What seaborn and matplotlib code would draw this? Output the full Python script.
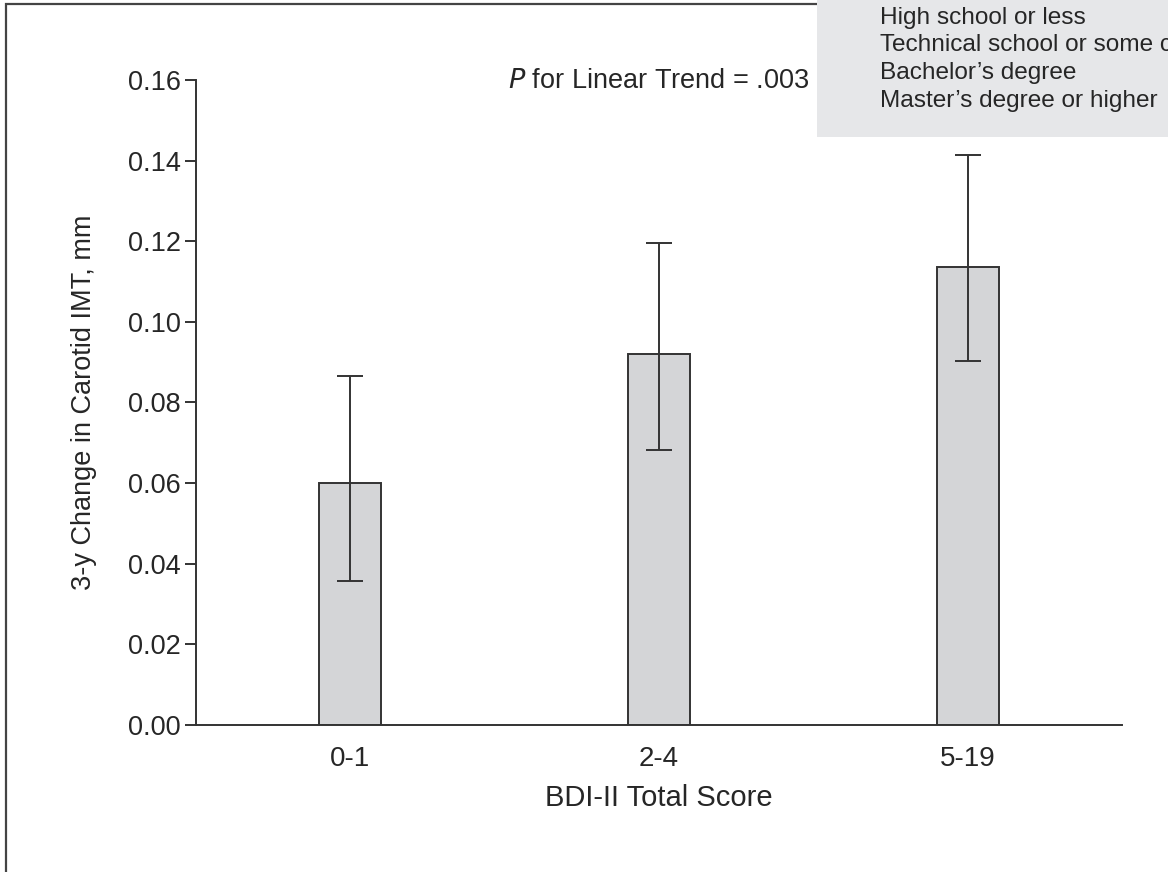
import numpy as np
import pandas as pd
import matplotlib
matplotlib.use('Agg')
import matplotlib.pyplot as plt
import seaborn as sns
from matplotlib.patches import Rectangle

# values
groups = ['0-1', '2-4', '5-19']
means = [0.060, 0.092, 0.1135]
lower = [0.0357, 0.0682, 0.0903]
upper = [0.0866, 0.1195, 0.1414]
yticks = [0.00, 0.02, 0.04, 0.06, 0.08, 0.10, 0.12, 0.14, 0.16]
legend_lines = ['High school or less', 'Technical school or some college',
                "Bachelor\u2019s degree", "Master\u2019s degree or higher"]

sns.set_style('ticks')
plt.rcParams['font.family'] = ['Liberation Sans', 'DejaVu Sans']
dark = '#333333'

df = pd.DataFrame({'group': groups, 'mean': means})

fig = plt.figure(figsize=(11.68, 8.72), dpi=100)
ax = fig.add_axes([0.1678, 0.1686, 0.7928, 0.7397])

sns.barplot(data=df, x='group', y='mean', color='#d4d5d7', width=0.2,
            edgecolor=dark, linewidth=1.4, saturation=1, ax=ax)

err = np.array([np.array(means) - np.array(lower), np.array(upper) - np.array(means)])
ax.errorbar(np.arange(len(groups)), means, yerr=err, fmt='none', ecolor=dark,
            elinewidth=1.4, capsize=9.5, capthick=1.4)

ax.set_xlim(-0.5, 2.5)
ax.set_ylim(0, 0.16)
ax.set_yticks(yticks)
ax.set_yticklabels([f'{t:.2f}' for t in yticks])
sns.despine(ax=ax)
for s in ['left', 'bottom']:
    ax.spines[s].set_color(dark)
    ax.spines[s].set_linewidth(1.4)
ax.tick_params(axis='y', direction='out', length=8, width=1.4, color=dark,
               labelsize=19.5, pad=3)
ax.tick_params(axis='x', length=0, labelsize=20, pad=15)
ax.set_xlabel('BDI-II Total Score', fontsize=21)
ax.set_ylabel('3-y Change in Carotid IMT, mm', fontsize=19.5)
ax.xaxis.set_label_coords(0.5, -0.092)
ax.yaxis.set_label_coords(-0.107, 0.5)

ax.text(1.0, 0.1597, r'$\it{P}$ for Linear Trend = .003', ha='center', va='center',
        fontsize=19.5)

# figure frame
fig.patches.append(Rectangle((6 / 1168, -0.1), 1.2, 1 - 4 / 872 + 0.1,
                             transform=fig.transFigure, fill=False,
                             edgecolor='#444444', linewidth=1.6))

# gray legend box overlapping at top right
fig.patches.append(Rectangle((817 / 1168, 1 - 137 / 872), 0.5, 137 / 872 + 0.01,
                             transform=fig.transFigure, facecolor='#e6e7e9',
                             edgecolor='none'))
for i, line in enumerate(legend_lines):
    fig.text(880 / 1168, 1 - (24 + i * 27.5) / 872, line, fontsize=17.6,
             va='baseline', ha='left')

fig.savefig('out.png', dpi=100)
